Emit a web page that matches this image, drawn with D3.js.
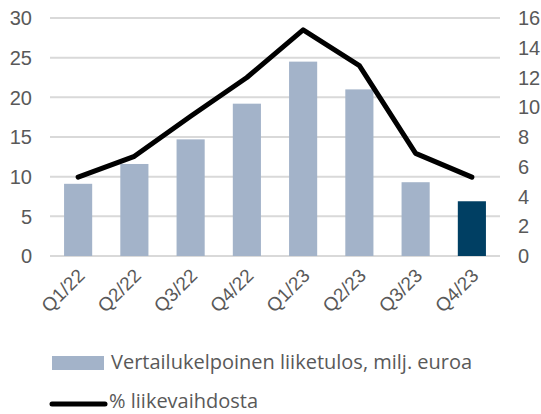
<!DOCTYPE html>
<meta charset="utf-8">
<title>Liiketulos</title>
<style>

body {
  margin: 0;
  background: #fff;
}

text {
  font-family: Arial, "Liberation Sans", sans-serif;
  fill: #595959;
}

.legend text {
  font-family: "Open Sans", sans-serif;
}

</style>
<body>
<script src="https://cdn.jsdelivr.net/npm/d3@7"></script>
<script>

var quarters = ["Q1/22", "Q2/22", "Q3/22", "Q4/22", "Q1/23", "Q2/23", "Q3/23", "Q4/23"],
    liiketulos = [9.1, 11.6, 14.7, 19.2, 24.5, 21.0, 9.3, 6.9],
    osuus = [5.3, 6.7, 9.4, 12.0, 15.2, 12.8, 6.9, 5.3],
    leftTicks = [0, 5, 10, 15, 20, 25, 30],
    rightTicks = [0, 2, 4, 6, 8, 10, 12, 14, 16];

var w = 541,
    h = 414,
    plotLeft = 50,
    plotRight = 500,
    plotTop = 18,
    plotBottom = 256;

var svg = d3.select("body").append("svg")
    .attr("width", w)
    .attr("height", h);

var x = d3.scaleBand()
    .domain(quarters)
    .range([plotLeft, plotRight])
    .paddingInner(0.5)
    .paddingOuter(0.25);

var y = d3.scaleLinear().domain([0, 30]).range([plotBottom, plotTop]);
var y2 = d3.scaleLinear().domain([0, 16]).range([plotBottom, plotTop]);

// gridlines
svg.append("g")
  .selectAll("line")
    .data(leftTicks)
  .enter().append("line")
    .attr("x1", plotLeft)
    .attr("x2", plotRight)
    .attr("y1", function(d) { return y(d); })
    .attr("y2", function(d) { return y(d); })
    .style("stroke", "#d9d9d9")
    .style("stroke-width", 2);

svg.append("g")
  .selectAll("text")
    .data(leftTicks)
  .enter().append("text")
    .attr("x", 32)
    .attr("y", function(d) { return y(d); })
    .attr("dy", "0.36em")
    .attr("text-anchor", "end")
    .style("font-size", "20px")
    .text(function(d) { return d; });

svg.append("g")
  .selectAll("text")
    .data(rightTicks)
  .enter().append("text")
    .attr("x", 518)
    .attr("y", function(d) { return y2(d); })
    .attr("dy", "0.36em")
    .style("font-size", "20px")
    .text(function(d) { return d; });

svg.append("g")
  .selectAll("rect")
    .data(liiketulos)
  .enter().append("rect")
    .attr("x", function(d, i) { return x(quarters[i]); })
    .attr("width", x.bandwidth())
    .attr("y", function(d) { return y(d); })
    .attr("height", function(d) { return plotBottom - y(d); })
    .style("fill", function(d, i) { return i == quarters.length - 1 ? "#003f63" : "#a3b3c9"; });

var line = d3.line()
    .x(function(d, i) { return x(quarters[i]) + x.bandwidth() / 2; })
    .y(function(d) { return y2(d); });

svg.append("path")
    .datum(osuus)
    .attr("d", line)
    .style("fill", "none")
    .style("stroke", "#000")
    .style("stroke-width", 5)
    .style("stroke-linecap", "round")
    .style("stroke-linejoin", "round");

svg.append("g")
  .selectAll("text")
    .data(quarters)
  .enter().append("text")
    .attr("transform", function(d) { return "translate(" + (x(d) + x.bandwidth() / 2 + 3) + ",272)rotate(-45)"; })
    .attr("text-anchor", "end")
    .attr("dy", "0.36em")
    .style("font-size", "19px")
    .text(function(d) { return d; });

var legend = svg.append("g").attr("class", "legend");

legend.append("rect")
    .attr("x", 52)
    .attr("y", 356)
    .attr("width", 52)
    .attr("height", 14)
    .style("fill", "#a3b3c9");

legend.append("text")
    .attr("x", 111)
    .attr("y", 369)
    .style("font-size", "20px")
    .text("Vertailukelpoinen liiketulos, milj. euroa");

legend.append("line")
    .attr("x1", 52)
    .attr("x2", 105)
    .attr("y1", 404)
    .attr("y2", 404)
    .style("stroke", "#000")
    .style("stroke-width", 5)
    .style("stroke-linecap", "round");

legend.append("text")
    .attr("x", 109)
    .attr("y", 408)
    .style("font-size", "20px")
    .text("% liikevaihdosta");

</script>
